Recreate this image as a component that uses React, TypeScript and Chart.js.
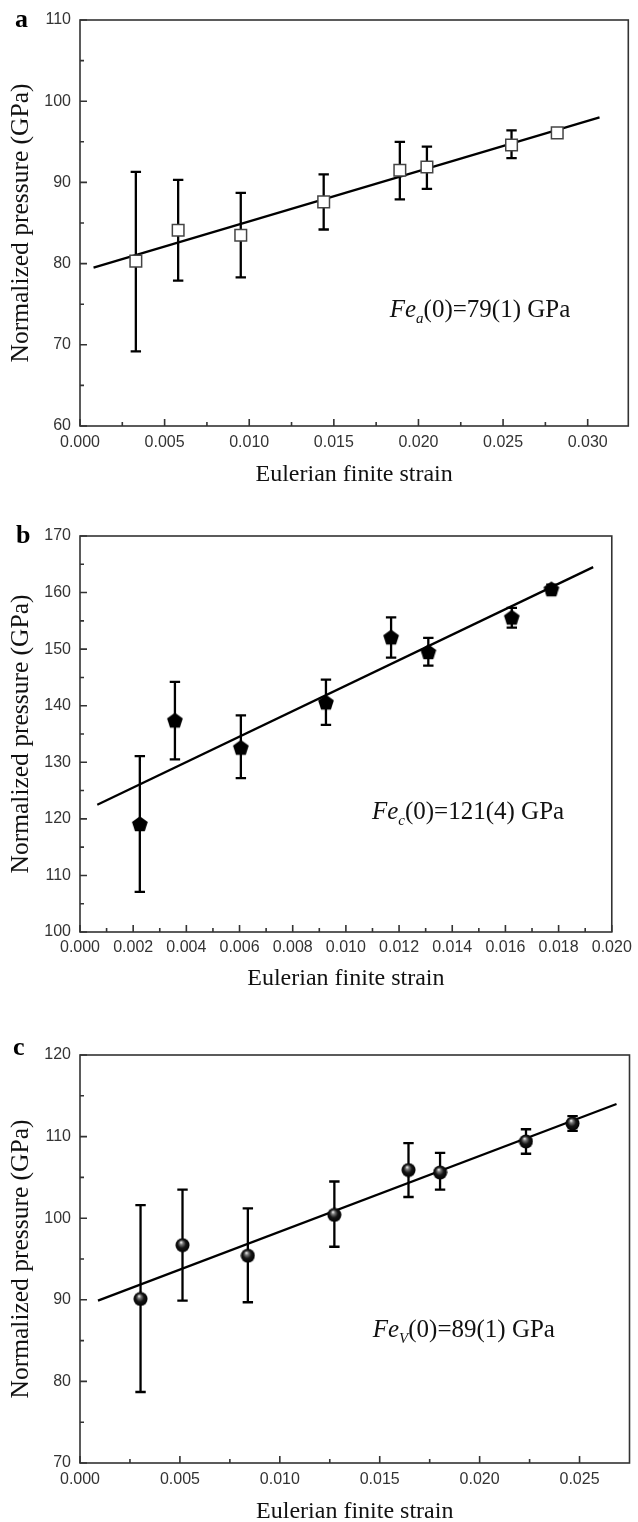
import React, { useEffect, useRef } from 'react';
import { Chart, registerables } from 'chart.js';

Chart.register(...registerables);

// ---------- Panel a data ----------
const strainA = [0.0033, 0.0058, 0.0095, 0.0144, 0.0189, 0.0205, 0.0255, 0.0282];
const pressureA = [80.3, 84.1, 83.5, 87.6, 91.5, 91.9, 94.6, 96.1];
const upperA = [91.3, 90.3, 88.7, 91.0, 95.0, 94.4, 96.4, 96.6];
const lowerA = [69.2, 77.9, 78.3, 84.2, 87.9, 89.2, 93.0, 95.7];
const fitStrainA = [0.0008, 0.0307];
const fitPressureA = [79.5, 98.0];
const xTicksA = [0.0, 0.005, 0.01, 0.015, 0.02, 0.025, 0.03];

// ---------- Panel b data ----------
const strainB = [0.00225, 0.00357, 0.00605, 0.00925, 0.0117, 0.0131, 0.01624, 0.01773];
const pressureB = [119.1, 137.4, 132.6, 140.6, 152.1, 149.5, 155.6, 160.6];
const upperB = [131.1, 144.2, 138.3, 144.6, 155.6, 152.0, 157.3, 161.4];
const lowerB = [107.1, 130.5, 127.2, 136.6, 148.5, 147.1, 153.8, 159.9];
const fitStrainB = [0.00065, 0.0193];
const fitPressureB = [122.5, 164.5];
const xTicksB = [0.0, 0.002, 0.004, 0.006, 0.008, 0.01, 0.012, 0.014, 0.016, 0.018, 0.02];

// ---------- Panel c data ----------
const strainC = [0.00303, 0.00513, 0.0084, 0.01273, 0.01644, 0.01802, 0.02232, 0.02465];
const pressureC = [90.1, 96.7, 95.4, 100.4, 105.9, 105.6, 109.4, 111.6];
const upperC = [101.6, 103.5, 101.2, 104.5, 109.2, 108.0, 110.9, 112.5];
const lowerC = [78.7, 89.9, 89.7, 96.5, 102.6, 103.5, 107.9, 110.7];
const fitStrainC = [0.0009, 0.02685];
const fitPressureC = [89.9, 114.0];
const xTicksC = [0.0, 0.005, 0.01, 0.015, 0.02, 0.025];

const xTitle = 'Eulerian finite strain';
const yTitle = 'Normalized pressure (GPa)';

const SERIF = '"Liberation Serif", "Times New Roman", serif';
const SANS = '"Liberation Sans", Arial, sans-serif';

type Panel = {
  letter: string;
  top: number;
  height: number;
  padTop: number;
  padRight: number;
  xScaleH: number;
  tickPad: number;
  titlePadB: number;
  xs: number[];
  ys: number[];
  hi: number[];
  lo: number[];
  fitX: number[];
  fitY: number[];
  xMax: number;
  xTicks: number[];
  yMin: number;
  yMax: number;
  marker: 'square' | 'pentagon' | 'sphere';
  note: { x: number; y: number; sub: string; rest: string };
  letterPos: [number, number];
};

const panels: Panel[] = [
  {
    letter: 'a', top: 0, height: 500, padTop: 20, padRight: 7, xScaleH: 74, tickPad: 7.4, titlePadB: 13,
    xs: strainA, ys: pressureA, hi: upperA, lo: lowerA, fitX: fitStrainA, fitY: fitPressureA,
    xMax: 0.0324, xTicks: xTicksA, yMin: 60, yMax: 110, marker: 'square',
    note: { x: 0.0183, y: 74.5, sub: 'a', rest: '(0)=79(1) GPa' }, letterPos: [15, 27],
  },
  {
    letter: 'b', top: 500, height: 510, padTop: 36, padRight: 22, xScaleH: 78, tickPad: 6.2, titlePadB: 19,
    xs: strainB, ys: pressureB, hi: upperB, lo: lowerB, fitX: fitStrainB, fitY: fitPressureB,
    xMax: 0.02, xTicks: xTicksB, yMin: 100, yMax: 170, marker: 'pentagon',
    note: { x: 0.01098, y: 121.4, sub: 'c', rest: '(0)=121(4) GPa' }, letterPos: [16, 43],
  },
  {
    letter: 'c', top: 1010, height: 530, padTop: 45, padRight: 6, xScaleH: 77, tickPad: 6.5, titlePadB: 16,
    xs: strainC, ys: pressureC, hi: upperC, lo: lowerC, fitX: fitStrainC, fitY: fitPressureC,
    xMax: 0.0275, xTicks: xTicksC, yMin: 70, yMax: 120, marker: 'sphere',
    note: { x: 0.01465, y: 86.5, sub: 'V', rest: '(0)=89(1) GPa' }, letterPos: [13, 45],
  },
];

function makePentagon(): HTMLCanvasElement {
  const c = document.createElement('canvas');
  c.width = 18; c.height = 18;
  const g = c.getContext('2d')!;
  g.fillStyle = '#000';
  g.beginPath();
  for (let k = 0; k < 5; k++) {
    const a = (-90 + k * 72) * Math.PI / 180;
    const px = 9 + 8.3 * Math.cos(a);
    const py = 9.6 + 8.3 * Math.sin(a);
    if (k === 0) g.moveTo(px, py); else g.lineTo(px, py);
  }
  g.closePath();
  g.fill();
  return c;
}

function makeSphere(): HTMLCanvasElement {
  const c = document.createElement('canvas');
  c.width = 15; c.height = 15;
  const g = c.getContext('2d')!;
  const grad = g.createRadialGradient(6, 4.5, 0.3, 7.5, 7.5, 7.2);
  grad.addColorStop(0, '#f0f0f0');
  grad.addColorStop(0.22, '#777');
  grad.addColorStop(0.55, '#151515');
  grad.addColorStop(1, '#000');
  g.fillStyle = grad;
  g.beginPath();
  g.arc(7.5, 7.5, 7, 0, Math.PI * 2);
  g.fill();
  return c;
}

function decoPlugin(p: Panel) {
  return {
    id: 'deco_' + p.letter,
    beforeDatasetsDraw(chart: any) {
      const { ctx } = chart;
      const xs = chart.scales.x, ys = chart.scales.y;
      ctx.save();
      ctx.strokeStyle = '#000';
      ctx.lineWidth = 2.3;
      ctx.beginPath();
      p.xs.forEach((xv, i) => {
        const px = xs.getPixelForValue(xv);
        const pt = ys.getPixelForValue(p.hi[i]);
        const pb = ys.getPixelForValue(p.lo[i]);
        ctx.moveTo(px, pt); ctx.lineTo(px, pb);
        ctx.moveTo(px - 5.2, pt); ctx.lineTo(px + 5.2, pt);
        ctx.moveTo(px - 5.2, pb); ctx.lineTo(px + 5.2, pb);
      });
      ctx.stroke();
      ctx.restore();
    },
    afterDraw(chart: any) {
      const { ctx, chartArea } = chart;
      const { left, right, top, bottom } = chartArea;
      const xs = chart.scales.x, ys = chart.scales.y;
      ctx.save();
      ctx.strokeStyle = '#333';
      ctx.lineWidth = 1.6;
      ctx.strokeRect(left, top, right - left, bottom - top);
      ctx.beginPath();
      const xMaj = xs.ticks.map((t: any) => t.value);
      const xStep = xMaj[1] - xMaj[0];
      xMaj.forEach((v: number) => {
        const px = xs.getPixelForValue(v);
        ctx.moveTo(px, bottom); ctx.lineTo(px, bottom - 7);
        const mv = v + xStep / 2;
        if (mv < xs.max) {
          const mp = xs.getPixelForValue(mv);
          ctx.moveTo(mp, bottom); ctx.lineTo(mp, bottom - 4);
        }
      });
      const yMaj = ys.ticks.map((t: any) => t.value);
      const yStep = yMaj[1] - yMaj[0];
      yMaj.forEach((v: number) => {
        const py = ys.getPixelForValue(v);
        ctx.moveTo(left, py); ctx.lineTo(left + 7, py);
        const mv = v + yStep / 2;
        if (mv < ys.max) {
          const mp = ys.getPixelForValue(mv);
          ctx.moveTo(left, mp); ctx.lineTo(left + 4, mp);
        }
      });
      ctx.stroke();

      // annotation
      const nx = xs.getPixelForValue(p.note.x);
      const ny = ys.getPixelForValue(p.note.y) + 8.5;
      ctx.fillStyle = '#111';
      ctx.textBaseline = 'alphabetic';
      ctx.textAlign = 'left';
      ctx.font = `italic 25px ${SERIF}`;
      ctx.fillText('Fe', nx, ny);
      const w1 = ctx.measureText('Fe').width;
      ctx.font = `italic 15px ${SERIF}`;
      ctx.fillText(p.note.sub, nx + w1, ny + 6);
      const w2 = ctx.measureText(p.note.sub).width;
      ctx.font = `25px ${SERIF}`;
      ctx.fillText(p.note.rest, nx + w1 + w2, ny);

      // panel letter
      ctx.font = `bold 26px ${SERIF}`;
      ctx.fillStyle = '#000';
      ctx.fillText(p.letter, p.letterPos[0], p.letterPos[1]);
      ctx.restore();
    },
  };
}

function PanelChart({ p }: { p: Panel }) {
  const ref = useRef<HTMLCanvasElement>(null);
  useEffect(() => {
    if (!ref.current) return;
    let pointStyle: any = 'rect';
    if (p.marker === 'pentagon') pointStyle = makePentagon();
    if (p.marker === 'sphere') pointStyle = makeSphere();
    const chart = new Chart(ref.current, {
      type: 'scatter',
      data: {
        datasets: [
          {
            data: p.xs.map((x, i) => ({ x, y: p.ys[i] })),
            pointStyle,
            pointRadius: p.marker === 'square' ? 8.2 : 7,
            pointBackgroundColor: '#fff',
            pointBorderColor: '#444',
            pointBorderWidth: 1.5,
            showLine: false,
            order: 0,
          },
          {
            data: p.fitX.map((x, i) => ({ x, y: p.fitY[i] })),
            showLine: true,
            borderColor: '#000',
            borderWidth: 2.3,
            pointRadius: 0,
            order: 1,
          },
        ],
      },
      options: {
        animation: false,
        responsive: false,
        events: [],
        layout: { padding: { top: p.padTop, right: p.padRight, left: 0, bottom: 0 } },
        plugins: { legend: { display: false }, tooltip: { enabled: false } },
        scales: {
          x: {
            type: 'linear',
            min: 0,
            max: p.xMax,
            afterBuildTicks: (s: any) => { s.ticks = p.xTicks.map((v) => ({ value: v })); },
            afterFit: (s: any) => { s.height = p.xScaleH; },
            grid: { display: false, drawTicks: false },
            border: { display: false },
            ticks: {
              autoSkip: false,
              maxRotation: 0,
              padding: p.tickPad,
              color: '#333',
              font: { family: SANS, size: 16, lineHeight: 1.2 },
              callback: (v: any) => Number(v).toFixed(3),
            },
            title: {
              display: true,
              text: xTitle,
              color: '#111',
              font: { family: SERIF, size: 24, lineHeight: 1 },
              padding: { top: 0, bottom: p.titlePadB },
            },
          },
          y: {
            type: 'linear',
            min: p.yMin,
            max: p.yMax,
            afterFit: (s: any) => { s.width = 80; },
            grid: { display: false, drawTicks: false },
            border: { display: false },
            ticks: {
              stepSize: 10,
              padding: 9,
              color: '#333',
              font: { family: SANS, size: 16, lineHeight: 1.2 },
            },
            title: {
              display: true,
              text: yTitle,
              color: '#111',
              font: { family: SERIF, size: 25.5, lineHeight: 1 },
              padding: { top: 9, bottom: 0 },
            },
          },
        },
      },
      plugins: [decoPlugin(p)],
    } as any);
    return () => chart.destroy();
  }, [p]);
  return (
    <canvas
      ref={ref}
      width={638}
      height={p.height}
      style={{ position: 'absolute', left: 0, top: p.top, width: 638, height: p.height, display: 'block' }}
    />
  );
}

export default function App() {
  return (
    <div style={{ position: 'absolute', left: 0, top: 0, width: 638, height: 1522, overflow: 'hidden', background: '#fff' }}>
      {panels.map((p) => (
        <PanelChart key={p.letter} p={p} />
      ))}
    </div>
  );
}
